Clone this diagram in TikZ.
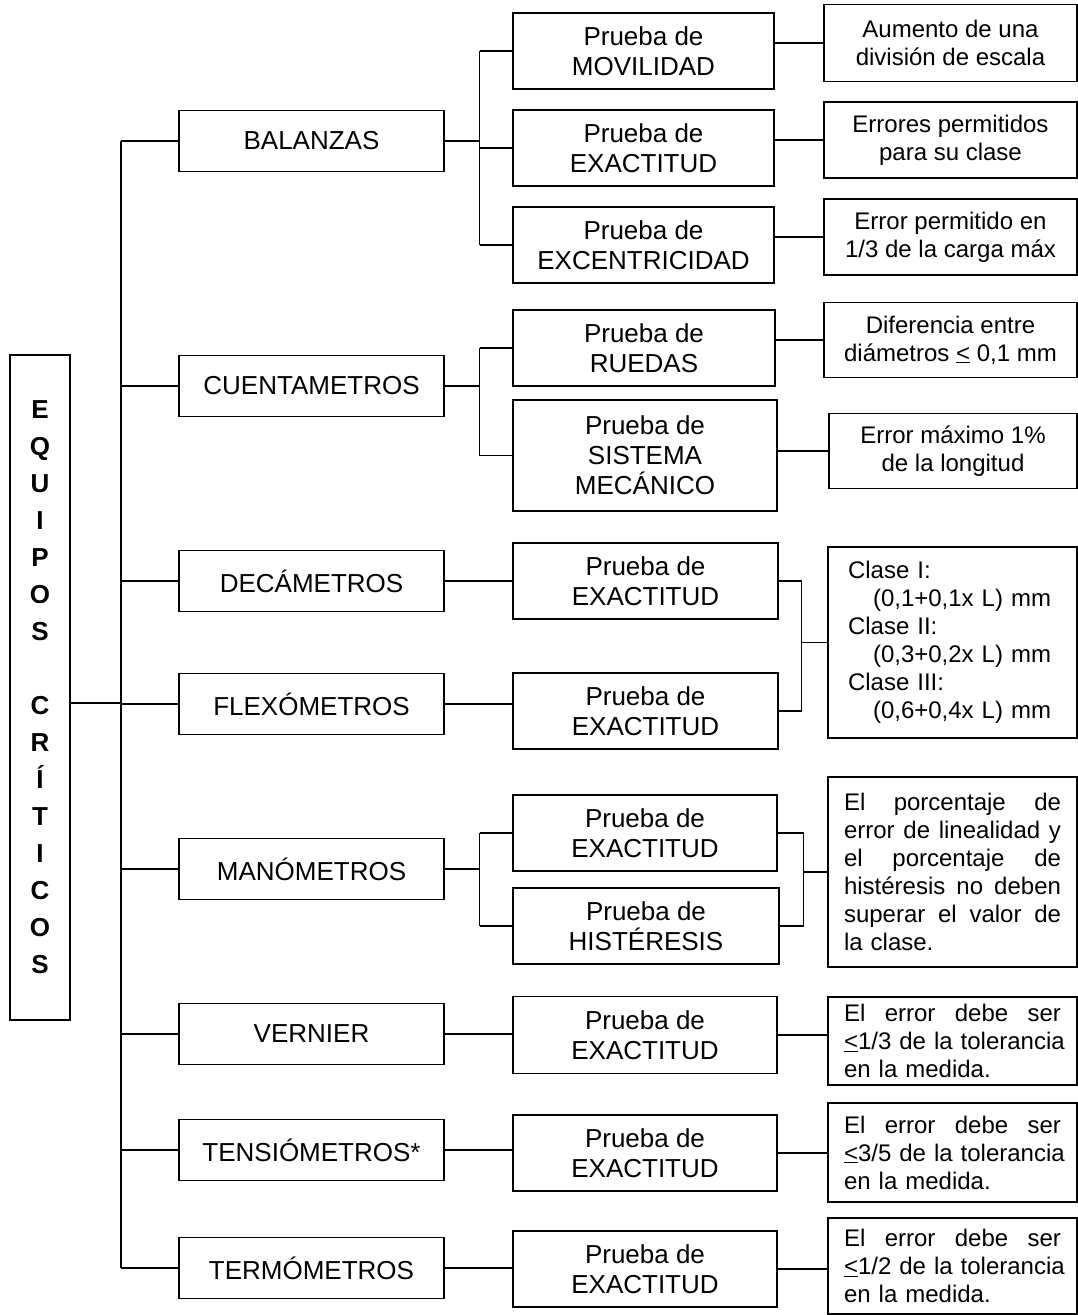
\documentclass[tikz,border=0pt]{standalone}
\usepackage{fontspec}
\setmainfont{Liberation Sans}
\usetikzlibrary{calc}

\newcommand\jline[1]{\makebox[217pt][l]{#1}}

\begin{document}
\begin{tikzpicture}[x=1pt,y=-1pt,
    box/.style={draw, line width=1.3pt, inner sep=0pt, align=center},
    lvl/.style={box, minimum width=265, minimum height=61, font=\fontsize{26}{30}\selectfont},
    tst/.style={box, font=\fontsize{26}{30}\selectfont},
    res/.style={box, font=\fontsize{24}{28}\selectfont},
    con/.style={line width=1.3pt}]

    \useasboundingbox (0,0) rectangle (1078,1315);

    % root
    \node (eq) [box, minimum width=60, minimum height=665, font=\fontsize{26}{37}\selectfont\bfseries] at (40,687.5)
        {E\\Q\\U\\I\\P\\O\\S\\[37pt]C\\R\\Í\\T\\I\\C\\O\\S};
    \coordinate (tr) at (121,703);

    % equipos
    \node (bal) [lvl] at (311.5,141) {BALANZAS};
    \node (cue) [lvl] at (311.5,386) {CUENTAMETROS};
    \node (dec) [lvl] at (311.5,581) {DECÁMETROS};
    \node (fle) [lvl] at (311.5,704) {FLEXÓMETROS};
    \node (man) [lvl] at (311.5,869) {MANÓMETROS};
    \node (ver) [lvl] at (311.5,1034) {VERNIER};
    \node (ten) [lvl] at (311.5,1150) {TENSIÓMETROS*};
    \node (ter) [lvl] at (311.5,1268) {TERMÓMETROS};

    \draw[con] (eq.east |- tr) -- (tr);
    \draw[con] (tr |- bal.west) -- (tr |- ter.west);
    \foreach \n in {bal,cue,dec,fle,man,ver,ten,ter}
        \draw[con] (tr |- \n.west) -- (\n.west);

    % pruebas
    \node (tMov) [tst, minimum width=261, minimum height=76] at (643.5,51) {Prueba de\\MOVILIDAD};
    \node (tExa) [tst, minimum width=261, minimum height=76] at (643.5,148) {Prueba de\\EXACTITUD};
    \node (tExc) [tst, minimum width=261, minimum height=76] at (643.5,245) {Prueba de\\EXCENTRICIDAD};
    \node (tRue) [tst, minimum width=262, minimum height=76] at (644,348) {Prueba de\\RUEDAS};
    \node (tSis) [tst, minimum width=264, minimum height=111] at (645,455.5) {Prueba de\\SISTEMA\\MECÁNICO};
    \node (tDec) [tst, minimum width=265, minimum height=76] at (645.5,581) {Prueba de\\EXACTITUD};
    \node (tFle) [tst, minimum width=265, minimum height=76] at (645.5,711) {Prueba de\\EXACTITUD};
    \node (tMe) [tst, minimum width=264, minimum height=76] at (645,833) {Prueba de\\EXACTITUD};
    \node (tMh) [tst, minimum width=266, minimum height=76] at (646,926) {Prueba de\\HISTÉRESIS};
    \node (tVer) [tst, minimum width=264, minimum height=77] at (645,1035) {Prueba de\\EXACTITUD};
    \node (tTen) [tst, minimum width=264, minimum height=76] at (645,1153) {Prueba de\\EXACTITUD};
    \node (tTer) [tst, minimum width=264, minimum height=76] at (645,1269) {Prueba de\\EXACTITUD};

    % criterios
    \node (rAum) [res, minimum width=253, minimum height=77] at (950.5,43) {Aumento de una\\división de escala};
    \node (rErr) [res, minimum width=253, minimum height=76] at (950.5,140) {Errores permitidos\\para su clase};
    \node (rCar) [res, minimum width=253, minimum height=76] at (950.5,237) {Error permitido en\\1/3 de la carga máx};
    \node (rDif) [res, minimum width=253, minimum height=75] at (950.5,340) {Diferencia entre\\diámetros \underline{<} 0,1 mm};
    \node (rMax) [res, minimum width=248, minimum height=75] at (953,451) {Error máximo 1\%\\de la longitud};
    \node (rCla) [res, minimum width=249, minimum height=191, text width=209, align=left] at (952.5,642.5)
        {Clase I:\\\hspace*{25pt}(0,1+0,1x L) mm\\Clase II:\\\hspace*{25pt}(0,3+0,2x L) mm\\Clase III:\\\hspace*{25pt}(0,6+0,4x L) mm};
    \node (rMan) [res, minimum width=249, minimum height=190, text width=217, align=left] at (952.5,872)
        {\jline{El \hfill porcentaje \hfill de}\\\jline{error \hfill de \hfill linealidad \hfill y}\\\jline{el \hfill porcentaje \hfill de}\\\jline{histéresis \hfill no \hfill deben}\\\jline{superar \hfill el \hfill valor \hfill de}\\la clase.};
    \node (rVer) [res, minimum width=249, minimum height=88, text width=217, align=left] at (952.5,1041)
        {\jline{El \hfill error \hfill debe \hfill ser}\\\jline{\underline{<}1/3 \hfill de \hfill la \hfill tolerancia}\\en la medida.};
    \node (rTen) [res, minimum width=249, minimum height=99, text width=217, align=left] at (952.5,1152.5)
        {\jline{El \hfill error \hfill debe \hfill ser}\\\jline{\underline{<}3/5 \hfill de \hfill la \hfill tolerancia}\\en la medida.};
    \node (rTer) [res, minimum width=249, minimum height=96, text width=217, align=left] at (952.5,1266)
        {\jline{El \hfill error \hfill debe \hfill ser}\\\jline{\underline{<}1/2 \hfill de \hfill la \hfill tolerancia}\\en la medida.};

    % balanzas
    \draw[con] (bal.east) -- ++(35,0) coordinate (kb);
    \draw[con] (kb |- tMov.west) -- (kb |- tExc.west);
    \foreach \n in {tMov,tExa,tExc}
        \draw[con] (kb |- \n.west) -- (\n.west);

    % cuentametros
    \draw[con] (cue.east) -- ++(35,0) coordinate (kc);
    \draw[con] (kc |- tRue.west) -- (kc |- tSis.west);
    \foreach \n in {tRue,tSis}
        \draw[con] (kc |- \n.west) -- (\n.west);

    % manometros
    \draw[con] (man.east) -- ++(35,0) coordinate (km);
    \draw[con] (km |- tMe.west) -- (km |- tMh.west);
    \foreach \n in {tMe,tMh}
        \draw[con] (km |- \n.west) -- (\n.west);

    % directos
    \foreach \a/\b in {dec/tDec,fle/tFle,ver/tVer,ten/tTen,ter/tTer}
        \draw[con] (\a.east) -- (\a.east -| \b.west);

    % pruebas a criterios
    \foreach \a/\b in {tMov/rAum,tExa/rErr,tExc/rCar,tRue/rDif,tSis/rMax}
        \draw[con] (\b.west -| \a.east) -- (\b.west);
    \foreach \a/\b in {tVer/rVer,tTen/rTen,tTer/rTer}
        \draw[con] (\a.east) -- (\a.east -| \b.west);

    \draw[con] (tDec.east) -- ++(23,0) coordinate (kd) |- (tFle.east);
    \draw[con] (rCla.west -| kd) -- (rCla.west);
    \draw[con] (tMe.east) -- ++(26,0) coordinate (kr) |- (tMh.east);
    \draw[con] (rMan.west -| kr) -- (rMan.west);

\end{tikzpicture}
\end{document}
